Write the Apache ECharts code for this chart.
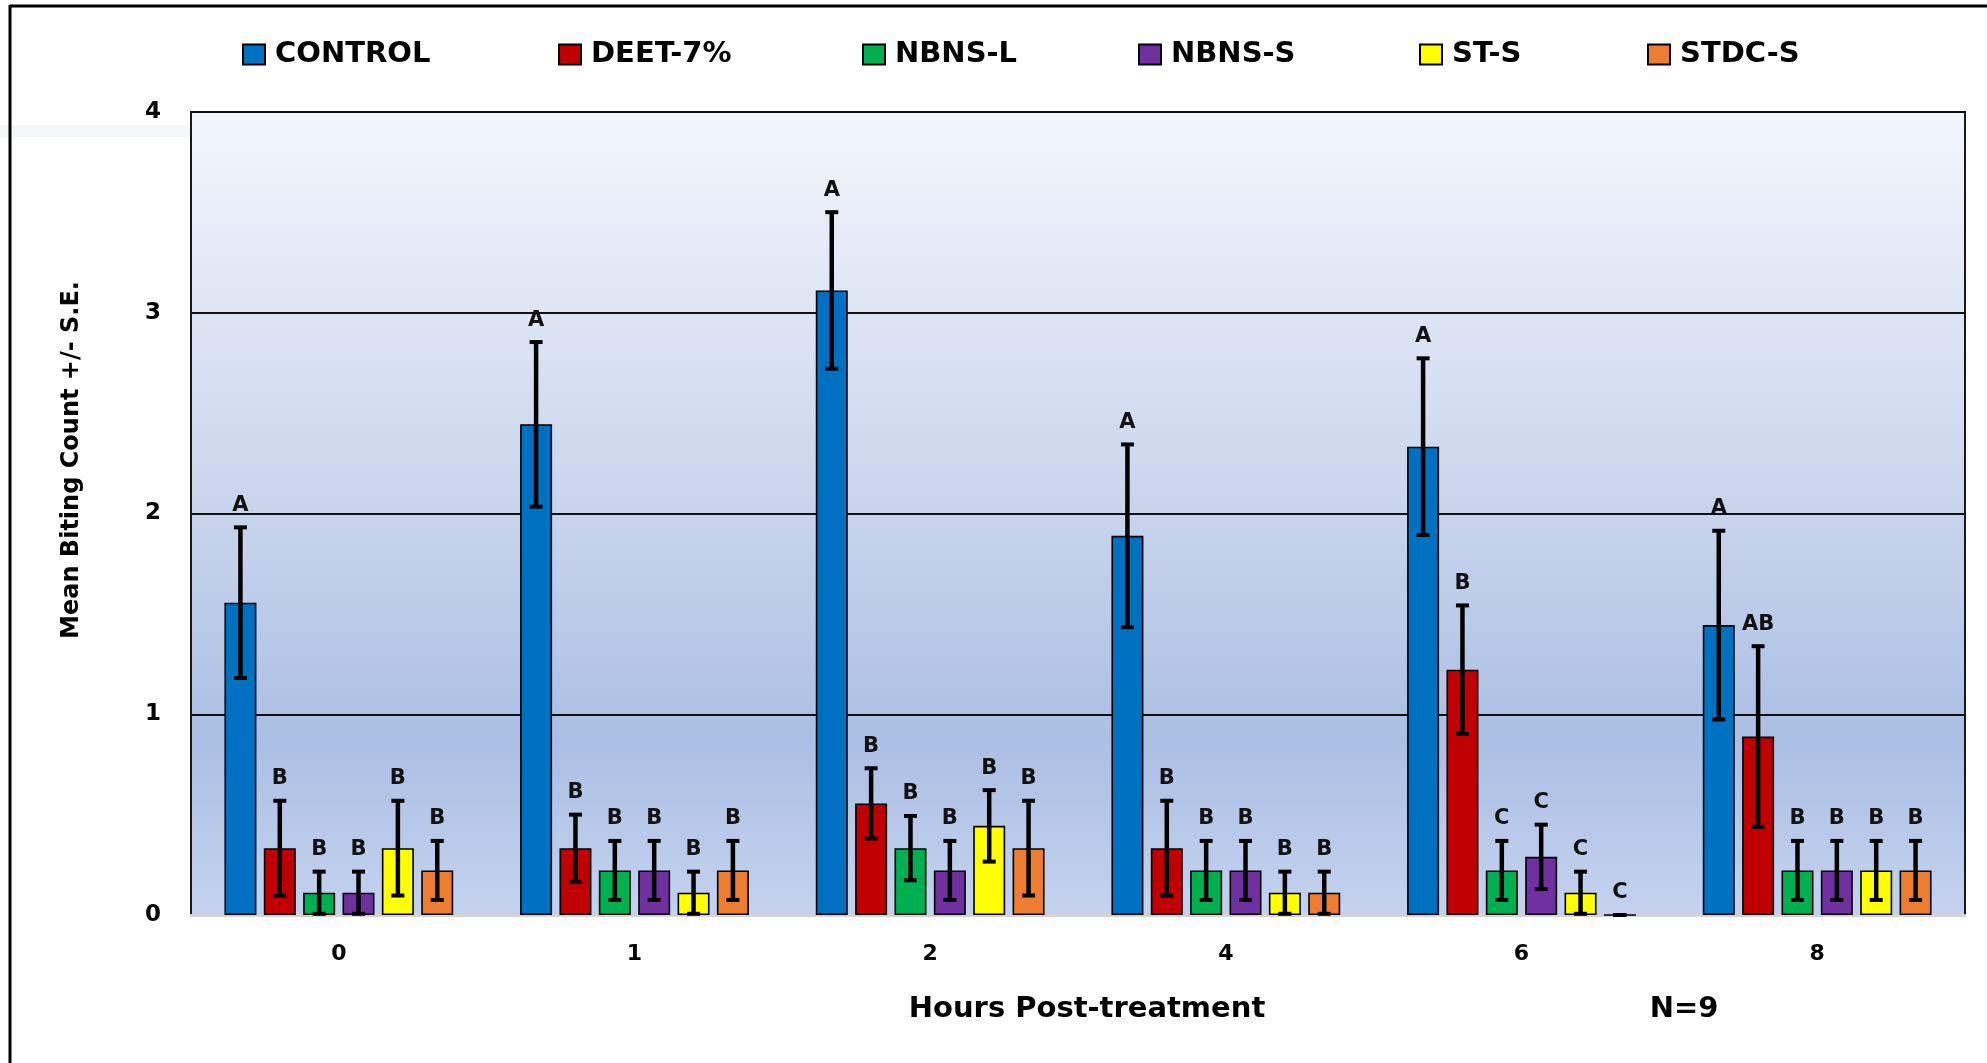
<!DOCTYPE html>
<html>
<head>
<meta charset="utf-8">
<script src="https://cdn.jsdelivr.net/npm/echarts@6/dist/echarts.min.js"></script>
<style>
html,body{margin:0;padding:0;background:#fff;}
#chart{width:1987px;height:1063px;}
</style>
</head>
<body>
<div id="chart"></div>
<script>
// ---- data ----
const categories = ['0', '1', '2', '4', '6', '8'];
const seriesNames = ['CONTROL', 'DEET-7%', 'NBNS-L', 'NBNS-S', 'ST-S', 'STDC-S'];
const seriesColors = ['#0070C0', '#C00000', '#00B050', '#7030A0', '#FFFF00', '#ED7D31'];

const CONTROL    = [1.556, 2.444, 3.111, 1.889, 2.333, 1.444];
const CONTROL_SE = [0.375, 0.410, 0.390, 0.455, 0.440, 0.470];
const DEET       = [0.333, 0.333, 0.556, 0.333, 1.222, 0.889];
const DEET_SE    = [0.236, 0.167, 0.175, 0.236, 0.320, 0.450];
const NBNSL      = [0.111, 0.222, 0.333, 0.222, 0.222, 0.222];
const NBNSL_SE   = [0.105, 0.147, 0.160, 0.147, 0.147, 0.147];
const NBNSS      = [0.111, 0.222, 0.222, 0.222, 0.290, 0.222];
const NBNSS_SE   = [0.105, 0.147, 0.147, 0.147, 0.160, 0.147];
const STS        = [0.333, 0.111, 0.444, 0.111, 0.111, 0.222];
const STS_SE     = [0.236, 0.105, 0.178, 0.105, 0.105, 0.147];
const STDCS      = [0.222, 0.222, 0.333, 0.111, 0.000, 0.222];
const STDCS_SE   = [0.147, 0.147, 0.236, 0.105, 0.000, 0.147];

const CONTROL_LET = ['A', 'A', 'A', 'A', 'A', 'A'];
const DEET_LET    = ['B', 'B', 'B', 'B', 'B', 'AB'];
const NBNSL_LET   = ['B', 'B', 'B', 'B', 'C', 'B'];
const NBNSS_LET   = ['B', 'B', 'B', 'B', 'C', 'B'];
const STS_LET     = ['B', 'B', 'B', 'B', 'C', 'B'];
const STDCS_LET   = ['B', 'B', 'B', 'B', 'C', 'B'];

const yTicks = [0, 1, 2, 3, 4];

// ---- assembly ----
const means = [CONTROL, DEET, NBNSL, NBNSS, STS, STDCS];
const ses = [CONTROL_SE, DEET_SE, NBNSL_SE, NBNSS_SE, STS_SE, STDCS_SE];
const letters = [CONTROL_LET, DEET_LET, NBNSL_LET, NBNSS_LET, STS_LET, STDCS_LET];

const BAR_W = 32;
const BAR_GAP = 0.23;
const FONT = '"DejaVu Sans", Verdana, sans-serif';

const errData = [];
const errLetters = [];
means.forEach((arr, s) => {
  arr.forEach((v, c) => {
    errData.push([c, s, v, ses[s][c]]);
    errLetters.push(letters[s][c]);
  });
});

const chart = echarts.init(document.getElementById('chart'), null, {renderer: 'canvas'});

const legendX = [242, 558, 862, 1138, 1419, 1647];

const barSeries = seriesNames.map((name, i) => ({
  name: name,
  type: 'bar',
  data: means[i],
  barWidth: BAR_W,
  barGap: (BAR_GAP * 100) + '%',
  itemStyle: {color: seriesColors[i], borderColor: '#000', borderWidth: 1.6},
  z: 2
}));

const errSeries = {
  type: 'custom',
  z: 5,
  silent: true,
  data: errData,
  encode: {x: 0, y: 2},
  renderItem: function (params, api) {
    const cat = api.value(0), s = api.value(1), mean = api.value(2), se = api.value(3);
    const pitch = BAR_W * (1 + BAR_GAP);
    const base = api.coord([cat, mean]);
    const x = base[0] + (s - 2.5) * pitch;
    const yTop = api.coord([cat, mean + se])[1];
    const yBot = api.coord([cat, Math.max(mean - se, 0)])[1];
    const capW = 13;
    const ls = {stroke: '#000', lineWidth: 4.5};
    return {
      type: 'group',
      children: [
        {type: 'line', shape: {x1: x, y1: yTop, x2: x, y2: yBot}, style: ls},
        {type: 'line', shape: {x1: x - capW / 2, y1: yTop, x2: x + capW / 2, y2: yTop}, style: {stroke: '#000', lineWidth: 4}},
        {type: 'line', shape: {x1: x - capW / 2, y1: yBot, x2: x + capW / 2, y2: yBot}, style: {stroke: '#000', lineWidth: 4}},
        {type: 'text', style: {
          text: errLetters[params.dataIndex], x: x, y: yTop - 22,
          align: 'center', verticalAlign: 'middle', fill: '#111',
          font: 'bold 21px ' + FONT
        }}
      ]
    };
  }
};

const option = {
  backgroundColor: '#ffffff',
  animation: false,
  legend: seriesNames.map((name, i) => ({
    data: [name],
    left: legendX[i],
    top: 40,
    padding: 0,
    icon: 'rect',
    itemWidth: 22,
    itemHeight: 20,
    selectedMode: false,
    textStyle: {fontFamily: FONT, fontWeight: 'bold', fontSize: 29, color: '#000', padding: [0, 0, 0, 5]}
  })),
  grid: {
    left: 191, right: 22, top: 112, bottom: 148,
    show: true,
    borderColor: '#1a1a1a',
    borderWidth: 2,
    backgroundColor: new echarts.graphic.LinearGradient(0, 0, 0, 1, [
      {offset: 0, color: '#F3F6FC'},
      {offset: 0.5, color: '#C8D4EC'},
      {offset: 0.78, color: '#ABBFE4'},
      {offset: 1, color: '#C4D2EE'}
    ])
  },
  xAxis: {
    type: 'category',
    data: categories,
    axisTick: {show: false},
    axisLine: {show: true, lineStyle: {color: '#d4d4d4', width: 3}},
    axisLabel: {margin: 28, fontFamily: FONT, fontWeight: 'bold', fontSize: 22, color: '#000'},
    splitLine: {show: false}
  },
  yAxis: {
    type: 'value',
    min: yTicks[0],
    max: yTicks[yTicks.length - 1],
    interval: 1,
    axisLine: {show: true, lineStyle: {color: '#1a1a1a', width: 2}},
    axisTick: {show: false},
    axisLabel: {margin: 30, fontFamily: FONT, fontWeight: 'bold', fontSize: 23, color: '#000'},
    splitLine: {show: true, showMinLine: false, lineStyle: {color: '#111', width: 2}}
  },
  graphic: [
    {type: 'rect', silent: true, shape: {x: 0, y: 125, width: 190, height: 12}, style: {fill: '#f5f6f7'}, z: -1},
    {type: 'line', silent: true, shape: {x1: 10, y1: 6, x2: 1987, y2: 6}, style: {stroke: '#000', lineWidth: 3}},
    {type: 'line', silent: true, shape: {x1: 10, y1: 5, x2: 10, y2: 1063}, style: {stroke: '#000', lineWidth: 3}},
    {type: 'text', silent: true, x: 72, y: 460, rotation: Math.PI / 2,
      style: {text: 'Mean Biting Count +/- S.E.', align: 'center', verticalAlign: 'middle', fill: '#000', font: 'bold 24px ' + FONT}},
    {type: 'text', silent: true, x: 1087, y: 1009,
      style: {text: 'Hours Post-treatment', align: 'center', verticalAlign: 'middle', fill: '#000', font: 'bold 29px ' + FONT}},
    {type: 'text', silent: true, x: 1684, y: 1009,
      style: {text: 'N=9', align: 'center', verticalAlign: 'middle', fill: '#000', font: 'bold 29px ' + FONT}}
  ],
  series: barSeries.concat([errSeries])
};

chart.setOption(option);
</script>
</body>
</html>
